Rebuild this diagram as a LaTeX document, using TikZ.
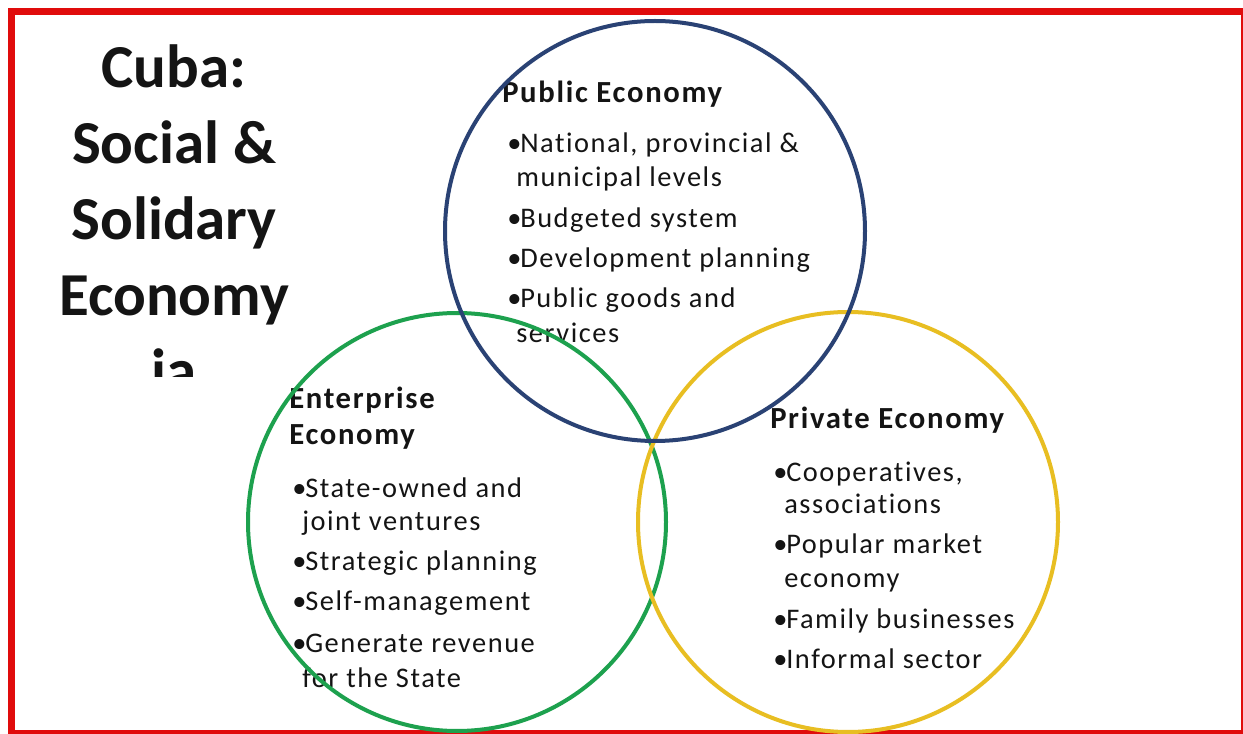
\documentclass[tikz,border=0pt]{standalone}
\usepackage{fontspec}
\setmainfont{Carlito}
% body text of the circles is set a little loosely
\newfontfamily\loosefont[LetterSpace=5.5, Ligatures=NoCommon]{Carlito}
\definecolor{framered}{HTML}{E00C0C}
\definecolor{pubblue}{HTML}{2A4274}
\definecolor{entgreen}{HTML}{1DA14E}
\definecolor{privgold}{HTML}{E8BE22}
\definecolor{ink}{HTML}{141414}
% bullet with a fixed width so the item text starts at the same place
\newcommand\bul{\makebox[9.75pt][l]{•}}
\begin{document}
\begin{tikzpicture}[x=0.75pt,y=-0.75pt,
  titleline/.style={font=\fontsize{45.75pt}{56pt}\selectfont\bfseries, anchor=base, inner sep=0pt, text=ink},
  head/.style={font=\loosefont\fontsize{23pt}{28pt}\selectfont\bfseries, anchor=base west, inner sep=0pt, text=ink},
  item/.style={font=\loosefont\fontsize{21.3pt}{26pt}\selectfont, anchor=base west, inner sep=0pt, text=ink},
  ring/.style={line width=3pt}]
\useasboundingbox (0,0) rectangle (1243,734);
\fill[white] (0,0) rectangle (1243,734);
\begin{scope}
  \clip (0,0) rectangle (1243,734);
  % red frame around the slide
  \draw[framered, line width=5.25pt] (11.5,11.5) rectangle (1244.5,733.5);

  % title, cut off at the bottom of its text box
  \begin{scope}
    \clip (15,15) rectangle (330,377);
    \node[titleline] (t1) at (174,88)  {Cuba:};
    \node[titleline] (t2) at (174,164) {Social \&};
    \node[titleline] (t3) at (174,240) {Solidary};
    \node[titleline] (t4) at (174,316) {Economy};
    \node[titleline] (t5) at (174,392) {ia};
  \end{scope}

  % public economy
  \node[head] (pubh) at (502,103) {Public Economy};
  \node[item] (pub1)  at (507,153) {\bul National, provincial \&};
  \node[item] (pub1b) at (516,187) {municipal levels};
  \node[item] (pub2)  at (507,228) {\bul Budgeted system};
  \node[item] (pub3)  at (507,268) {\bul Development planning};
  \node[item] (pub4)  at (507,308) {\bul Public goods and};
  \node[item] (pub4b) at (516,343) {services};

  % enterprise economy
  \node[head] (enth1) at (289,408) {Enterprise};
  \node[head] (enth2) at (289,445) {Economy};
  \node[item] (ent1)  at (292,497) {\bul State-owned and};
  \node[item] (ent1b) at (302,530) {joint ventures};
  \node[item] (ent2)  at (292,570) {\bul Strategic planning};
  \node[item] (ent3)  at (292,610) {\bul Self-management};
  \node[item] (ent4)  at (292,652) {\bul Generate revenue};
  \node[item] (ent4b) at (302,687) {for the State};

  % private economy
  \node[head] (prih) at (770,428) {Private Economy};
  \node[item] (pri1)  at (773,481) {\bul Cooperatives,};
  \node[item] (pri1b) at (784,513) {associations};
  \node[item] (pri2)  at (773,553) {\bul Popular market};
  \node[item] (pri2b) at (784,587) {economy};
  \node[item] (pri3)  at (773,628) {\bul Family businesses};
  \node[item] (pri4)  at (773,668) {\bul Informal sector};

  % the three overlapping circles
  \draw[ring, entgreen] (457,522) circle [radius=209];
  \draw[ring, privgold] (848,522) circle [radius=210];
  \draw[ring, pubblue]  (655,231) circle [radius=210];
\end{scope}
\end{tikzpicture}
\end{document}
